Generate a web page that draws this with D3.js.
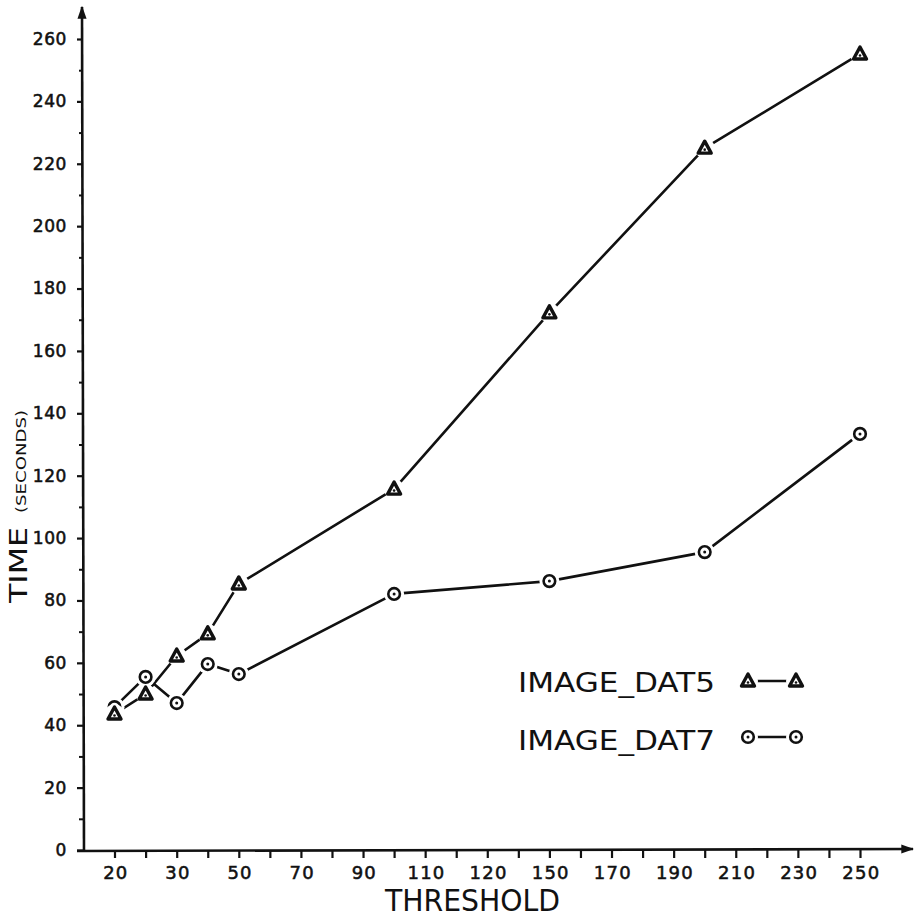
<!DOCTYPE html>
<html>
<head>
<meta charset="utf-8">
<script src="https://cdn.jsdelivr.net/npm/d3@7"></script>
<style>
  html, body { margin: 0; padding: 0; background: #fff; }
  svg { display: block; }
  text { font-family: "DejaVu Sans", sans-serif; fill: #111; }
</style>
</head>
<body>
<svg id="chart" width="915" height="917"></svg>
<script>
// Threshold settings tested and run times (seconds) for each image
const thresholds = [20, 25, 30, 40, 50, 100, 150, 200, 250];
const dat5Times = [43.6, 50, 62.2, 69.3, 85.3, 115.7, 172.2, 225, 255.2];
const dat7Times = [45.8, 55.5, 47.1, 59.6, 56.4, 82.1, 86.2, 95.5, 133.4];

// Axis ticks and the labels lettered beneath them
const xMinorTicks = [20, 25, 30, 40, 50, 60, 70, 80, 90, 100, 110, 120, 130, 140, 150,
                     160, 170, 180, 190, 200, 210, 220, 230, 240, 250];
const xLabelTicks = [20, 30, 50, 70, 90, 110, 130, 150, 170, 190, 210, 230, 250];
const xLabelTexts = ["20", "30", "50", "70", "90", "110", "120", "150", "170", "190", "210", "230", "250"];
const yMajorTicks = [0, 20, 40, 60, 80, 100, 120, 140, 160, 180, 200, 220, 240, 260];
const yMinorTicks = [10, 30, 50, 70, 90, 110, 130, 150, 170, 190, 210, 230, 250];

const seriesNames = ["IMAGE_DAT5", "IMAGE_DAT7"];

const svg = d3.select("#chart");
const ink = "#111";

// The threshold axis is stretched at its low end: 20–30 and 30–50 each span two tick steps
const x = d3.scaleLinear()
  .domain([20, 30, 50, 250])
  .range([114.5, 176.7, 238.8, 860]);
const y = d3.scaleLinear().domain([0, 260]).range([850, 39]);

const originX = 83, originY = y(0);

// arrowheads
const defs = svg.append("defs");
defs.append("marker")
  .attr("id", "arrow").attr("viewBox", "0 0 10 10")
  .attr("refX", 9).attr("refY", 5)
  .attr("markerWidth", 5).attr("markerHeight", 5)
  .attr("orient", "auto")
  .append("path").attr("d", "M0,1.5 L10,5 L0,8.5 Z").attr("fill", ink);

// axis lines
svg.append("line")
  .attr("x1", originX + 1).attr("y1", originY + 2)
  .attr("x2", originX - 1).attr("y2", 7)
  .attr("stroke", ink).attr("stroke-width", 2.6)
  .attr("marker-end", "url(#arrow)");
svg.append("line")
  .attr("x1", originX - 6).attr("y1", originY + 1)
  .attr("x2", 913).attr("y2", originY - 1)
  .attr("stroke", ink).attr("stroke-width", 2.6)
  .attr("marker-end", "url(#arrow)");

// lettering style shared by the tick labels: regular face, slightly thickened
function tickLettering(sel, size, spacing) {
  sel.attr("font-size", size)
    .attr("letter-spacing", spacing)
    .attr("fill", ink).attr("stroke", ink).attr("stroke-width", 0.55)
    .attr("font-family", "DejaVu Sans, sans-serif");
}

// y axis ticks and labels
const yAxisG = svg.append("g").attr("transform", `translate(${originX},0)`);
yAxisG.call(d3.axisLeft(y).tickValues(yMajorTicks).tickSize(6).tickPadding(10)
  .tickFormat(d3.format("d")));
yAxisG.select(".domain").remove();
yAxisG.selectAll(".tick line").attr("stroke", ink).attr("stroke-width", 2.2);
yAxisG.selectAll(".tick text").call(tickLettering, 17, 0.6);

const yMinorG = svg.append("g").attr("transform", `translate(${originX},0)`);
yMinorG.call(d3.axisLeft(y).tickValues(yMinorTicks).tickSize(4).tickFormat(""));
yMinorG.select(".domain").remove();
yMinorG.selectAll(".tick line").attr("stroke", ink).attr("stroke-width", 2);

// x axis ticks and labels
const xMinorG = svg.append("g").attr("transform", `translate(0,${originY})`);
xMinorG.call(d3.axisBottom(x).tickValues(xMinorTicks).tickSize(8).tickFormat(""));
xMinorG.select(".domain").remove();
xMinorG.selectAll(".tick line").attr("stroke", ink).attr("stroke-width", 2.2);

const xLabelG = svg.append("g").attr("transform", `translate(0,${originY})`);
xLabelG.call(d3.axisBottom(x).tickValues(xLabelTicks).tickSize(0).tickPadding(16)
  .tickFormat((d, i) => xLabelTexts[i]));
xLabelG.select(".domain").remove();
xLabelG.selectAll(".tick text").call(tickLettering, 18, 1.2).attr("dx", 0.8);

// axis titles
svg.append("text")
  .attr("x", 385).attr("y", 911)
  .attr("font-size", 31)
  .attr("textLength", 175).attr("lengthAdjust", "spacingAndGlyphs")
  .text("THRESHOLD");

svg.append("text")
  .attr("transform", "translate(27,603) rotate(-90)")
  .attr("font-size", 24)
  .attr("textLength", 76).attr("lengthAdjust", "spacingAndGlyphs")
  .text("TIME");
svg.append("text")
  .attr("transform", "translate(25.5,513) rotate(-90)")
  .attr("font-size", 14.5)
  .attr("textLength", 103).attr("lengthAdjust", "spacingAndGlyphs")
  .text("(SECONDS)");

// series lines
const line = d3.line().x(d => x(d[0])).y(d => y(d[1]));
const dat5 = thresholds.map((t, i) => [t, dat5Times[i]]);
const dat7 = thresholds.map((t, i) => [t, dat7Times[i]]);

[dat5, dat7].forEach(series => {
  svg.append("path")
    .datum(series)
    .attr("d", line)
    .attr("fill", "none")
    .attr("stroke", ink)
    .attr("stroke-width", 2.6)
    .attr("stroke-linejoin", "round");
});

// marker glyphs
const triPath = "M0,-7 L6.5,5 L-6.5,5 Z";
function drawTriangle(g, cx, cy) {
  g.append("circle").attr("cx", cx).attr("cy", cy).attr("r", 10).attr("fill", "#fff");
  g.append("path").attr("transform", `translate(${cx},${cy})`)
    .attr("d", triPath).attr("fill", "#fff")
    .attr("stroke", ink).attr("stroke-width", 3.4).attr("stroke-linejoin", "round");
  g.append("circle").attr("cx", cx).attr("cy", cy + 1.5).attr("r", 1.3).attr("fill", ink);
}
function drawCircle(g, cx, cy) {
  g.append("circle").attr("cx", cx).attr("cy", cy).attr("r", 10).attr("fill", "#fff");
  g.append("circle").attr("cx", cx).attr("cy", cy).attr("r", 5.8)
    .attr("fill", "#fff").attr("stroke", ink).attr("stroke-width", 2.6);
  g.append("circle").attr("cx", cx).attr("cy", cy).attr("r", 1.5).attr("fill", ink);
}

const markG = svg.append("g");
dat7.forEach(d => drawCircle(markG, x(d[0]), y(d[1])));
dat5.forEach(d => drawTriangle(markG, x(d[0]), y(d[1])));

// legend
const legendRows = [
  { name: seriesNames[0], baseline: 692, symY: 681, draw: drawTriangle },
  { name: seriesNames[1], baseline: 750, symY: 737, draw: drawCircle }
];
const legendG = svg.append("g");
legendRows.forEach(r => {
  legendG.append("text")
    .attr("x", 518).attr("y", r.baseline)
    .attr("font-size", 27)
    .attr("textLength", 197).attr("lengthAdjust", "spacingAndGlyphs")
    .text(r.name);
  legendG.append("line")
    .attr("x1", 748).attr("x2", 796)
    .attr("y1", r.symY).attr("y2", r.symY)
    .attr("stroke", ink).attr("stroke-width", 2.6);
  r.draw(legendG, 748, r.symY);
  r.draw(legendG, 796, r.symY);
});
</script>
</body>
</html>
